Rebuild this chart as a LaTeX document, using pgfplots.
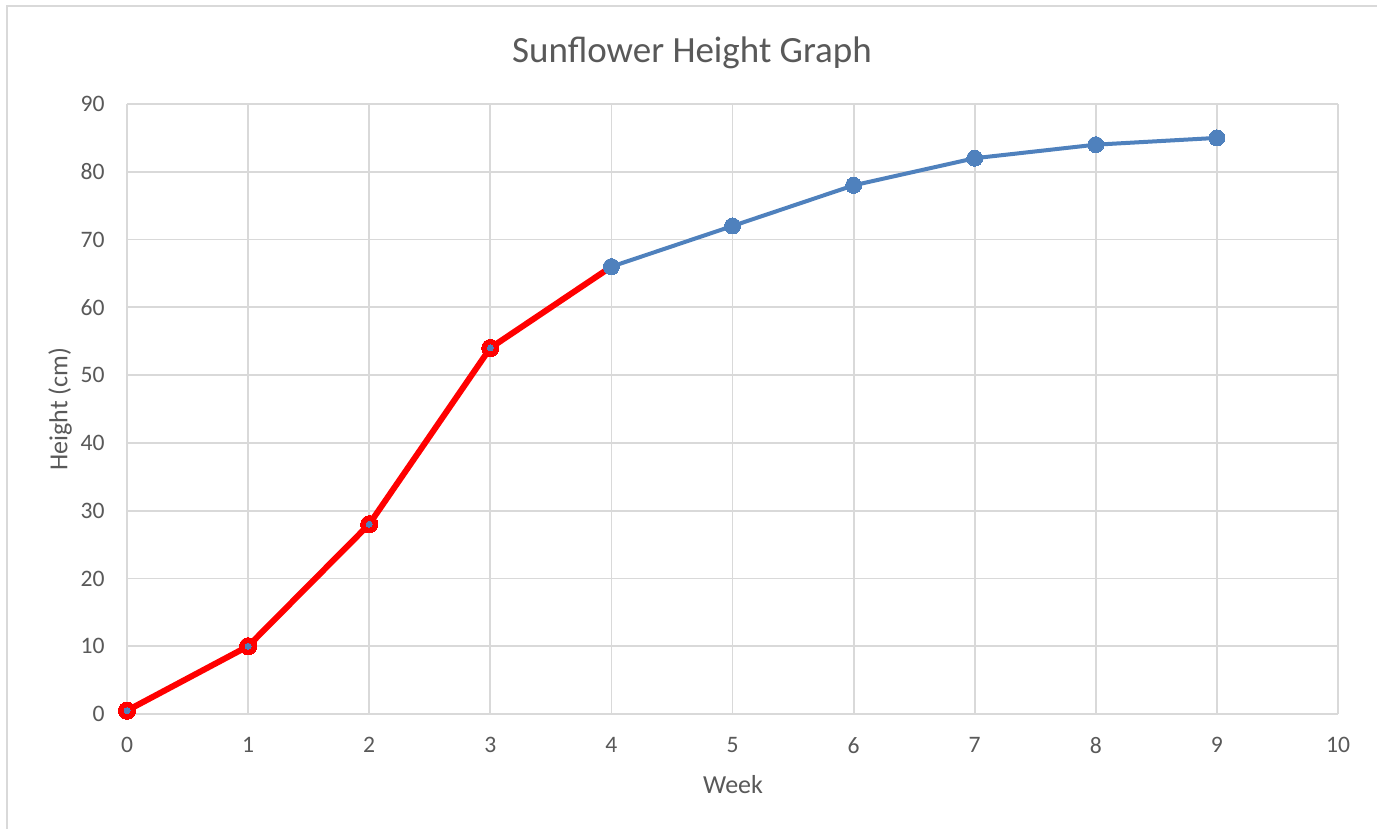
\documentclass[border=0pt]{standalone}
\usepackage{pgfplots}
\pgfplotsset{compat=1.18}
\usepackage{fontspec}
\setmainfont{Carlito}
\definecolor{txtc}{RGB}{89,89,89}
\definecolor{gridc}{RGB}{217,217,217}
\definecolor{blueS}{RGB}{79,129,189}
\begin{document}
\begin{tikzpicture}[x=1pt,y=1pt]
\useasboundingbox (0,0) rectangle (688.5,414.5);
\fill[white] (0,0) rectangle (688.5,414.5);
\draw[draw=gridc, line width=0.9pt] (3.5,-10) -- (3.5,411.5) -- (700,411.5);
\begin{axis}[
  at={(63.5pt,57.5pt)}, anchor=south west,
  scale only axis, width=605.5pt, height=305pt,
  xmin=0, xmax=10, ymin=0, ymax=90,
  xtick={0,1,...,10}, ytick={0,10,...,90},
  grid=major, major grid style={draw=gridc, line width=0.9pt},
  axis line style={draw=gridc, line width=0.9pt},
  axis x line*=bottom, axis y line*=left,
  tick style={draw=none},
  /pgf/number format/assume math mode=true,
  ticklabel style={font=\fontsize{11.8}{14}\selectfont, text=txtc, inner sep=0pt},
  xticklabel style={yshift=-11.5pt},
  yticklabel style={xshift=-11pt},
  clip=false,
]
\addplot[blueS, line width=2pt, mark=*, mark size=4pt, mark options={fill=blueS, draw=blueS, line width=0pt}]
  coordinates {(0,0.5) (1,10) (2,28) (3,54) (4,66) (5,72) (6,78) (7,82) (8,84) (9,85)};
\addplot[red, line width=3pt, line join=round]
  coordinates {(0,0.5) (1,10) (2,28) (3,54) (4,66)};
\addplot[only marks, mark=*, mark size=4.3pt, mark options={fill=red, draw=red, line width=0pt}]
  coordinates {(0,0.5) (1,10) (2,28) (3,54)};
\addplot[only marks, mark=*, mark size=1.5pt, mark options={fill=blueS, draw=blueS, line width=0pt}]
  coordinates {(0,0.5) (1,10) (2,28) (3,54)};
\addplot[only marks, mark=*, mark size=4pt, mark options={fill=blueS, draw=blueS, line width=0pt}]
  coordinates {(4,66)};
\end{axis}
\node[text=txtc, font=\fontsize{18.5}{22}\selectfont] at (346,388) {Sunflower Height Graph};
\node[text=txtc, font=\fontsize{13}{16}\selectfont] at (366.5,22) {Week};
\node[text=txtc, font=\fontsize{13}{16}\selectfont, rotate=90] at (30,210) {Height (cm)};
\end{tikzpicture}
\end{document}
